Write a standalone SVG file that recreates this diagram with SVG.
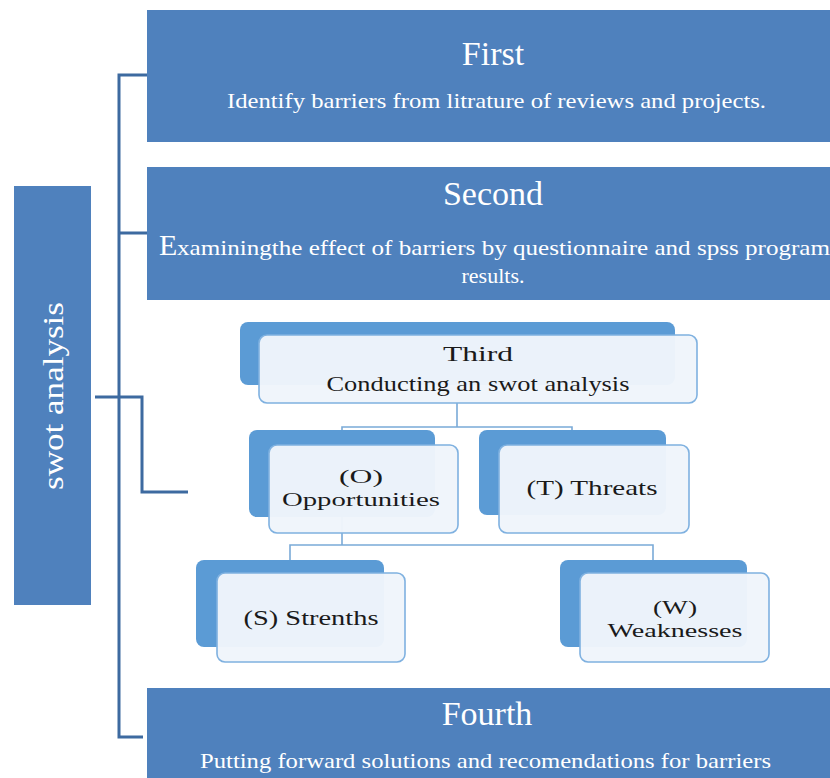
<svg xmlns="http://www.w3.org/2000/svg" width="830" height="778" viewBox="0 0 830 778">
<style>
.big{fill:#4f81bd}
.hd{font-family:"Liberation Serif",serif;fill:#fff;font-size:34px;text-anchor:middle}
.sub{font-family:"Liberation Serif",serif;fill:#fff;font-size:22px}
.back{fill:#5b9bd5}
.front{fill:#eff5fb;fill-opacity:0.97;stroke:#7fb1e0;stroke-width:1.6}
.st{font-family:"Liberation Serif",serif;fill:#1a1a1a;font-size:22px;text-anchor:middle}
.st2{font-family:"Liberation Serif",serif;fill:#1a1a1a;font-size:19px;text-anchor:middle}
.br{fill:none;stroke:#3d6aa0;stroke-width:3}
.cn{fill:none;stroke:#7aaad8;stroke-width:1.6}
</style>
<rect width="830" height="778" fill="#fff"/>
<g id="connectors">
<path class="br" d="M147 75H119V737H143M147 233H119M95 397H142V492H188"/>
<path class="cn" d="M457 403V427M342 431V427H572V431M342 517V545M290 560V545H653V560"/>
</g>
<g id="swot">
<rect class="big" x="14" y="186" width="77" height="419"/>
<text transform="translate(63 396) rotate(-90)" font-family="Liberation Serif, serif" font-size="30" fill="#fff" text-anchor="middle" textLength="188" lengthAdjust="spacingAndGlyphs">swot analysis</text>
</g>
<g id="first">
<rect class="big" x="147" y="10" width="690" height="132"/>
<text class="hd" x="493" y="65">First</text>
<text class="sub" x="227" y="108" textLength="539" lengthAdjust="spacingAndGlyphs">Identify barriers from litrature of reviews and projects.</text>
</g>
<g id="second">
<rect class="big" x="147" y="167" width="690" height="133"/>
<text class="hd" x="493" y="205">Second</text>
<text font-family="Liberation Serif, serif" fill="#fff" font-size="30" x="159" y="255">E</text>
<text class="sub" x="177" y="255" textLength="653" lengthAdjust="spacingAndGlyphs">xaminingthe effect of barriers by questionnaire and spss program</text>
<text class="sub" x="493" y="283" text-anchor="middle">results.</text>
</g>
<g id="third">
<rect class="back" x="240" y="322" width="435" height="63" rx="8"/>
<rect class="front" x="259" y="335" width="438" height="68" rx="8"/>
<text class="st" x="478" y="361" font-size="24" textLength="70" lengthAdjust="spacingAndGlyphs">Third</text>
<text class="st" x="478" y="391" textLength="303" lengthAdjust="spacingAndGlyphs">Conducting an swot analysis</text>
</g>
<g id="opportunities">
<rect class="back" x="249" y="430" width="186" height="87" rx="8"/>
<rect class="front" x="269" y="445" width="189" height="88" rx="8"/>
<text class="st2" x="361" y="483" textLength="44" lengthAdjust="spacingAndGlyphs">(O)</text>
<text class="st2" x="361" y="506" textLength="158" lengthAdjust="spacingAndGlyphs">Opportunities</text>
</g>
<g id="threats">
<rect class="back" x="479" y="430" width="187" height="85" rx="8"/>
<rect class="front" x="499" y="445" width="190" height="88" rx="8"/>
<text class="st" x="592" y="495" textLength="131" lengthAdjust="spacingAndGlyphs">(T) Threats</text>
</g>
<g id="strengths">
<rect class="back" x="196" y="560" width="188" height="87" rx="8"/>
<rect class="front" x="217" y="573" width="188" height="89" rx="8"/>
<text class="st" x="311" y="625" textLength="135" lengthAdjust="spacingAndGlyphs">(S) Strenths</text>
</g>
<g id="weaknesses">
<rect class="back" x="560" y="560" width="187" height="87" rx="8"/>
<rect class="front" x="580" y="573" width="189" height="89" rx="8"/>
<text class="st2" x="675" y="614" textLength="44" lengthAdjust="spacingAndGlyphs">(W)</text>
<text class="st2" x="675" y="637" textLength="135" lengthAdjust="spacingAndGlyphs">Weaknesses</text>
</g>
<g id="fourth">
<rect class="big" x="147" y="688" width="690" height="95"/>
<text class="hd" x="487" y="725">Fourth</text>
<text class="sub" x="200" y="768" textLength="571" lengthAdjust="spacingAndGlyphs">Putting forward solutions and recomendations for barriers</text>
</g>
</svg>
